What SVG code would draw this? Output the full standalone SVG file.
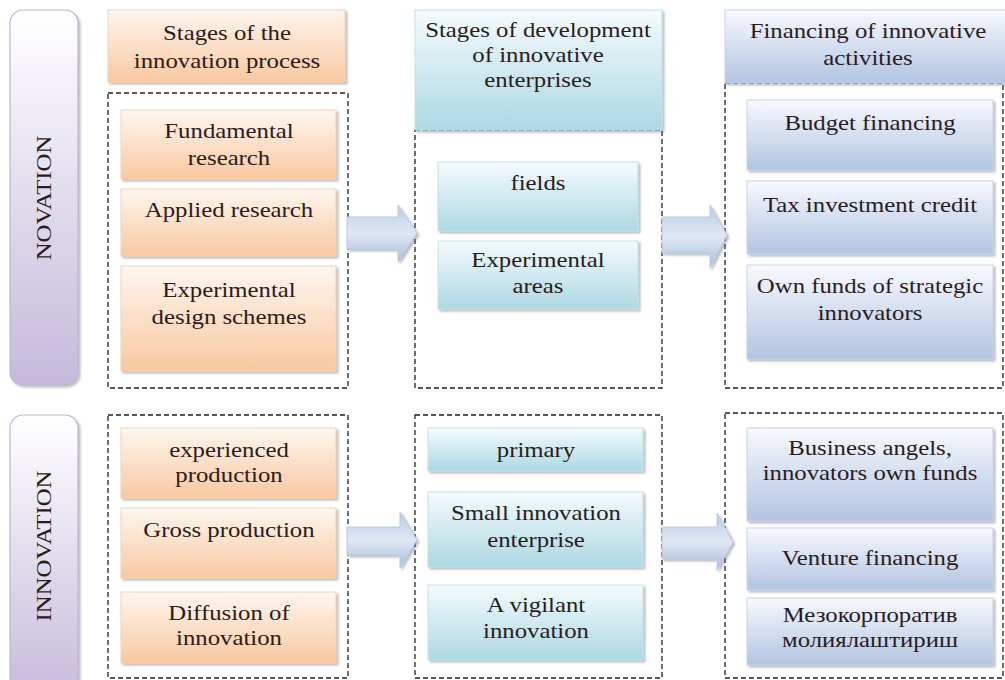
<svg xmlns="http://www.w3.org/2000/svg" width="1005" height="680" viewBox="0 0 1005 680">
  <style>
    .t { font-family: "Liberation Serif", "Times New Roman", serif; font-size: 21px; fill: #2a1c1c; text-anchor: middle; }
    .dash { fill: none; stroke: #222; stroke-width: 1.3; stroke-dasharray: 5 3; }
    .org { fill: url(#gOrange); stroke: #f2d3ba; stroke-width: 1; filter: url(#shadow); }
    .teal { fill: url(#gTeal); stroke: #c4e2ea; stroke-width: 1; filter: url(#shadow); }
    .blue { fill: url(#gBlue); stroke: #c8d3e8; stroke-width: 1; filter: url(#shadow); }
    .side { fill: url(#gSide); stroke: #bfb7d2; stroke-width: 1.2; filter: url(#shadow); }
    .arrow { fill: url(#gArrow); stroke: #bccbe2; stroke-width: 1; filter: url(#shadow); }
  </style>
  <defs>
    <linearGradient id="gOrange" x1="0" y1="0" x2="0" y2="1">
      <stop offset="0" stop-color="#fef6ef"/>
      <stop offset="1" stop-color="#f9c8a0"/>
    </linearGradient>
    <linearGradient id="gTeal" x1="0" y1="0" x2="0" y2="1">
      <stop offset="0" stop-color="#f5fbfd"/>
      <stop offset="1" stop-color="#acd8e3"/>
    </linearGradient>
    <linearGradient id="gBlue" x1="0" y1="0" x2="0" y2="1">
      <stop offset="0" stop-color="#f7f9fd"/>
      <stop offset="1" stop-color="#b2c4e2"/>
    </linearGradient>
    <linearGradient id="gSide" x1="0" y1="0" x2="0" y2="1">
      <stop offset="0" stop-color="#ffffff"/>
      <stop offset="1" stop-color="#c4b9db"/>
    </linearGradient>
    <linearGradient id="gArrow" x1="0" y1="0" x2="0" y2="1">
      <stop offset="0" stop-color="#bccde7"/>
      <stop offset="0.5" stop-color="#dfe7f3"/>
      <stop offset="1" stop-color="#a9bddc"/>
    </linearGradient>
    <filter id="shadow" x="-10%" y="-10%" width="125%" height="125%">
      <feDropShadow dx="2" dy="2" stdDeviation="1.2" flood-color="#6f6f6f" flood-opacity="0.45"/>
    </filter>
  </defs>

  <!-- dashed group frames -->
  <g id="frames">
    <rect class="dash" x="108" y="93" width="240" height="295"/>
    <rect class="dash" x="415" y="130" width="247" height="258"/>
    <rect class="dash" x="725" y="83" width="278" height="305"/>
    <rect class="dash" x="108" y="415" width="240" height="263"/>
    <rect class="dash" x="415" y="415" width="247" height="263"/>
    <rect class="dash" x="725" y="413" width="278" height="265"/>
  </g>

  <!-- side labels -->
  <g id="novation">
    <rect class="side" x="10" y="10" width="68" height="375" rx="13"/>
    <text class="t" transform="translate(51,198) rotate(-90) scale(1.18,1)" x="0" y="0">NOVATION</text>
  </g>
  <g id="innovation">
    <rect class="side" x="10" y="415" width="68" height="290" rx="13"/>
    <text class="t" transform="translate(51,546) rotate(-90) scale(1.18,1)" x="0" y="0">INNOVATION</text>
  </g>

  <!-- column headers -->
  <g id="hdr-stages">
    <rect class="org" x="108" y="10" width="237" height="72"/>
    <text class="t" transform="translate(227,0) scale(1.18,1)"><tspan x="0" y="40">Stages of the</tspan><tspan x="0" y="68">innovation process</tspan></text>
  </g>
  <g id="hdr-development">
    <rect class="teal" x="415" y="10" width="247" height="120"/>
    <text class="t" transform="translate(538,0) scale(1.18,1)"><tspan x="0" y="37">Stages of development</tspan><tspan x="0" y="62">of innovative</tspan><tspan x="0" y="87">enterprises</tspan></text>
  </g>
  <g id="hdr-financing">
    <rect class="blue" x="725" y="10" width="290" height="73"/>
    <text class="t" transform="translate(868,0) scale(1.18,1)"><tspan x="0" y="38">Financing of innovative</tspan><tspan x="0" y="65">activities</tspan></text>
  </g>

  <!-- novation row: stages -->
  <g id="fundamental">
    <rect class="org" x="121" y="110" width="215" height="69"/>
    <text class="t" transform="translate(229,0) scale(1.18,1)"><tspan x="0" y="138">Fundamental</tspan><tspan x="0" y="165">research</tspan></text>
  </g>
  <g id="applied">
    <rect class="org" x="121" y="189" width="215" height="67"/>
    <text class="t" transform="translate(229,0) scale(1.18,1)"><tspan x="0" y="217">Applied research</tspan></text>
  </g>
  <g id="experimental-design">
    <rect class="org" x="121" y="266" width="215" height="105"/>
    <text class="t" transform="translate(229,0) scale(1.18,1)"><tspan x="0" y="297">Experimental</tspan><tspan x="0" y="324">design schemes</tspan></text>
  </g>

  <!-- novation row: enterprises -->
  <g id="fields">
    <rect class="teal" x="438" y="162" width="200" height="69"/>
    <text class="t" transform="translate(538,0) scale(1.18,1)"><tspan x="0" y="190">fields</tspan></text>
  </g>
  <g id="experimental-areas">
    <rect class="teal" x="438" y="241" width="200" height="68"/>
    <text class="t" transform="translate(538,0) scale(1.18,1)"><tspan x="0" y="267">Experimental</tspan><tspan x="0" y="293">areas</tspan></text>
  </g>

  <!-- novation row: financing -->
  <g id="budget">
    <rect class="blue" x="747" y="100" width="246" height="70"/>
    <text class="t" transform="translate(870,0) scale(1.18,1)"><tspan x="0" y="130">Budget financing</tspan></text>
  </g>
  <g id="tax-credit">
    <rect class="blue" x="747" y="181" width="246" height="73"/>
    <text class="t" transform="translate(870,0) scale(1.18,1)"><tspan x="0" y="212">Tax investment credit</tspan></text>
  </g>
  <g id="own-funds">
    <rect class="blue" x="747" y="265" width="246" height="94"/>
    <text class="t" transform="translate(870,0) scale(1.18,1)"><tspan x="0" y="293">Own funds of strategic</tspan><tspan x="0" y="320">innovators</tspan></text>
  </g>

  <!-- innovation row: stages -->
  <g id="experienced">
    <rect class="org" x="121" y="428" width="215" height="70"/>
    <text class="t" transform="translate(229,0) scale(1.18,1)"><tspan x="0" y="457">experienced</tspan><tspan x="0" y="482">production</tspan></text>
  </g>
  <g id="gross">
    <rect class="org" x="121" y="508" width="215" height="70"/>
    <text class="t" transform="translate(229,0) scale(1.18,1)"><tspan x="0" y="537">Gross production</tspan></text>
  </g>
  <g id="diffusion">
    <rect class="org" x="121" y="592" width="215" height="71"/>
    <text class="t" transform="translate(229,0) scale(1.18,1)"><tspan x="0" y="620">Diffusion of</tspan><tspan x="0" y="645">innovation</tspan></text>
  </g>

  <!-- innovation row: enterprises -->
  <g id="primary">
    <rect class="teal" x="428" y="428" width="215" height="43"/>
    <text class="t" transform="translate(536,0) scale(1.18,1)"><tspan x="0" y="457">primary</tspan></text>
  </g>
  <g id="small-enterprise">
    <rect class="teal" x="428" y="492" width="215" height="75"/>
    <text class="t" transform="translate(536,0) scale(1.18,1)"><tspan x="0" y="520">Small innovation</tspan><tspan x="0" y="547">enterprise</tspan></text>
  </g>
  <g id="vigilant">
    <rect class="teal" x="428" y="585" width="215" height="75"/>
    <text class="t" transform="translate(536,0) scale(1.18,1)"><tspan x="0" y="612">A vigilant</tspan><tspan x="0" y="638">innovation</tspan></text>
  </g>

  <!-- innovation row: financing -->
  <g id="business-angels">
    <rect class="blue" x="747" y="428" width="246" height="93"/>
    <text class="t" transform="translate(870,0) scale(1.18,1)"><tspan x="0" y="455">Business angels,</tspan><tspan x="0" y="480">innovators own funds</tspan></text>
  </g>
  <g id="venture">
    <rect class="blue" x="747" y="528" width="246" height="62"/>
    <text class="t" transform="translate(870,0) scale(1.18,1)"><tspan x="0" y="565">Venture financing</tspan></text>
  </g>
  <g id="mezo">
    <rect class="blue" x="747" y="598" width="246" height="67"/>
    <text class="t" transform="translate(870,0) scale(1.18,1)"><tspan x="0" y="622">Мезокорпоратив</tspan><tspan x="0" y="647">молиялаштириш</tspan></text>
  </g>

  <!-- block arrows between columns -->
  <g id="connectors">
    <path class="arrow" d="M347,217 L398,217 L398,205 L417,233 L398,262 L398,249 L347,249 Z"/>
    <path class="arrow" d="M662,217 L710,217 L710,205 L727,235 L710,268 L710,253 L662,253 Z"/>
    <path class="arrow" d="M347,527 L400,527 L400,512 L417,540 L400,568 L400,555 L347,555 Z"/>
    <path class="arrow" d="M662,527 L717,527 L717,513 L733,542 L717,570 L717,559 L662,559 Z"/>
  </g>
</svg>
